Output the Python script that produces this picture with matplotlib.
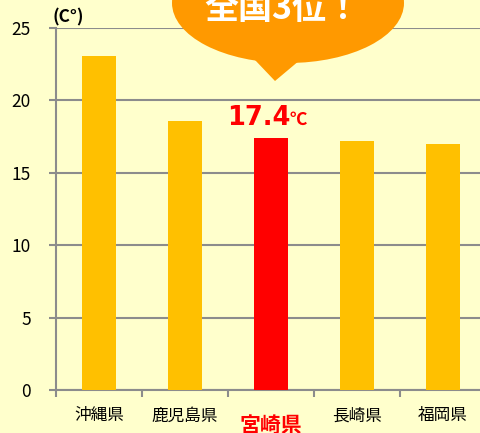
import numpy as np
import matplotlib.pyplot as plt
import matplotlib.transforms as mtransforms
from matplotlib.patches import Ellipse, Polygon

plt.rcParams['font.family'] = ['Noto Sans CJK JP', 'DejaVu Sans']

prefs  = ['沖縄県', '鹿児島県', '宮崎県', '長崎県', '福岡県']
temps  = [23.1, 18.6, 17.4, 17.2, 17.0]
colors = ['#FFC000', '#FFC000', '#FF0000', '#FFC000', '#FFC000']
yticks = [0, 5, 10, 15, 20, 25]
hl = 2  # highlighted prefecture

W, H = 481, 433
bg = '#FFFFCC'
fig = plt.figure(figsize=(W / 100, H / 100), dpi=100, facecolor=bg)
# axis spans x 56..486 px, y 28..390 px
ax = fig.add_axes([56 / W, (H - 390) / H, 430 / W, 362 / H], facecolor=bg)

x = np.arange(len(prefs))
ax.bar(x, temps, width=0.4, color=colors, zorder=3)
ax.set_xlim(-0.5, len(prefs) - 0.5)
ax.set_ylim(0, 25)
ax.set_yticks(yticks)
ax.grid(axis='y', color='#8C8C8C', linewidth=1.5, zorder=1)
ax.set_axisbelow(True)
for s in ['top', 'right']:
	ax.spines[s].set_visible(False)
for s in ['left', 'bottom']:
	ax.spines[s].set_color('#8C8C8C')
	ax.spines[s].set_linewidth(1.5)

ax.tick_params(axis='y', length=5, width=1.5, color='#8C8C8C', pad=13, labelsize=12.5)
# category boundary ticks
ax.set_xticks(np.arange(-0.5, len(prefs), 1.0))
ax.set_xticklabels([])
ax.tick_params(axis='x', length=5, width=1.5, color='#8C8C8C')

trans = mtransforms.blended_transform_factory(ax.transData, ax.transAxes)
for i, p in enumerate(prefs):
	if i == hl:
		ax.text(i, -0.068, p, transform=trans, ha='center', va='top',
			fontsize=15, fontweight='bold', color='#FF0000')
	else:
		ax.text(i, -0.048, p, transform=trans, ha='center', va='top', fontsize=12)

# value label on the highlighted bar
ax.annotate('17.4', (hl, temps[hl]), xytext=(19, 13), textcoords='offset pixels',
	ha='right', va='baseline', fontsize=18.5, fontweight='bold', color='#FF0000',
	family=['DejaVu Sans'])
ax.annotate('℃', (hl, temps[hl]), xytext=(19, 13), textcoords='offset pixels',
	ha='left', va='baseline', fontsize=12.5, fontweight='bold', color='#FF0000')

# unit
fig.text(52 / W, 1 - 17 / H, '(C°)', ha='left', va='center', fontsize=12.5, fontweight='bold')

# speech bubble
px = lambda a, b: (a / W, 1 - b / H)
bubble = Ellipse(px(288, 3), 232 / W, 120 / H, transform=fig.transFigure,
	facecolor='#FF9900', edgecolor='none', zorder=10)
fig.add_artist(bubble)
tip = Polygon([px(255, 60), px(300, 60), px(275, 81)], closed=True,
	transform=fig.transFigure, facecolor='#FF9900', edgecolor='none', zorder=10)
fig.add_artist(tip)
fig.text(282 / W, 1 - 9 / H, '全国3位！', ha='center', va='center', fontsize=24.5,
	fontweight='bold', color='white', zorder=11)

fig.savefig('out.png', dpi=100, facecolor=bg)
